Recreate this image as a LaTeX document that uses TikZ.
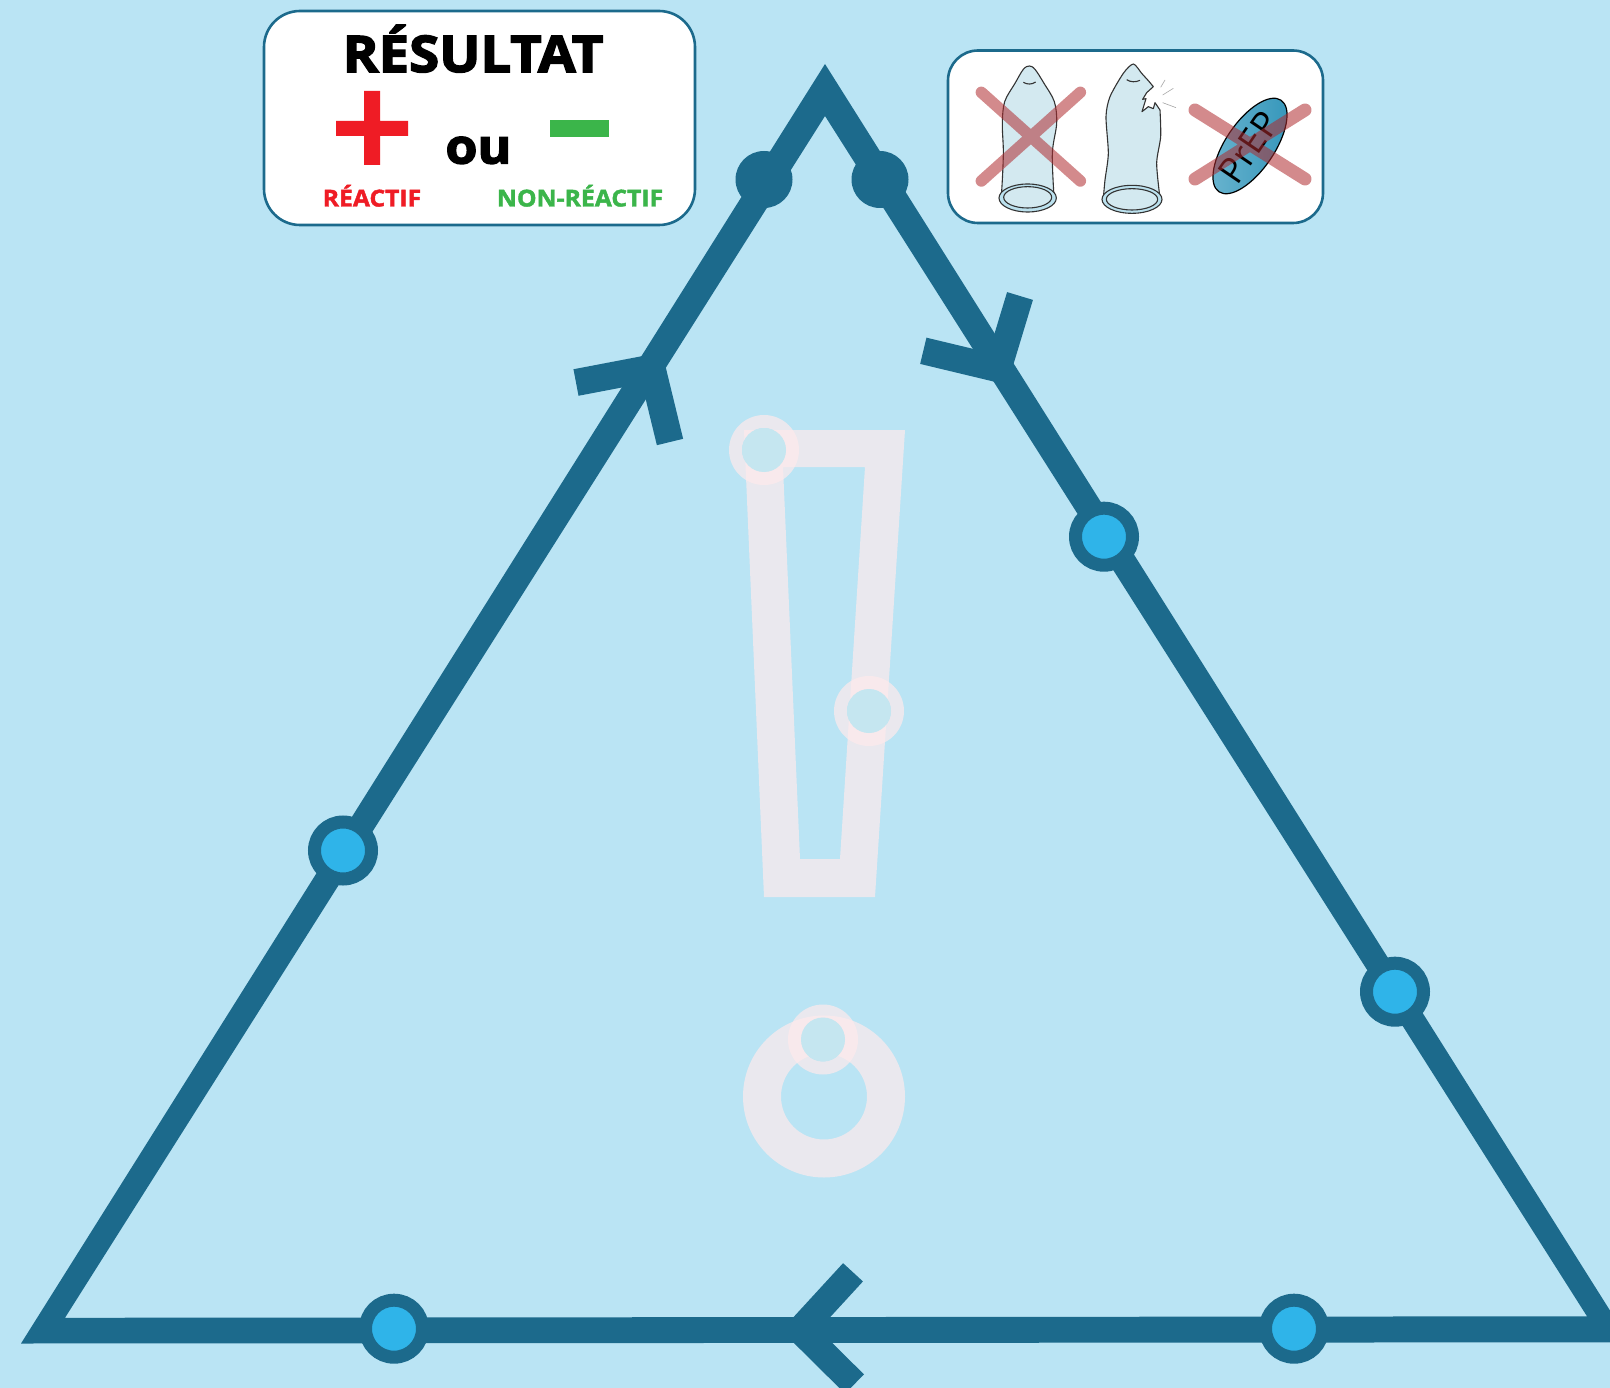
\documentclass[tikz,border=0pt]{standalone}
\usepackage{fontspec}
\setmainfont{Open Sans}
\newfontfamily\heavyf[BoldFeatures={FakeBold=3,FakeStretch=1.08}]{Open Sans}
\newfontfamily\midf[BoldFeatures={FakeBold=1.8,FakeStretch=1.06}]{Open Sans}
\definecolor{bgblue}{HTML}{BAE4F4}
\definecolor{tridark}{HTML}{1C6A8C}
\definecolor{dotblue}{HTML}{2FB4E9}
\definecolor{ghost}{HTML}{FFEAEC}
\definecolor{holecol}{HTML}{C5E6F0}
\definecolor{plusred}{HTML}{EF1C25}
\definecolor{minusgreen}{HTML}{3BB54A}
\definecolor{latexcol}{HTML}{D3E9F0}
\definecolor{ringcol}{HTML}{BBE1EE}
\definecolor{crossred}{HTML}{AF2B2F}
\definecolor{pilllight}{HTML}{6AB4CF}
\definecolor{pilldark}{HTML}{3496BA}
\tikzset{
  x=1pt,y=-1pt,
  panel/.style={draw=tridark,line width=2.6pt,fill=white},
  bluedot/.style={circle,draw=tridark,line width=13pt,fill=dotblue,minimum size=57pt,inner sep=0pt},
  darkdot/.style={circle,fill=tridark,minimum size=57pt,inner sep=0pt},
  ghostmark/.style={fill=ghost,fill opacity=.7,even odd rule},
  ghosthole/.style={circle,fill=holecol,minimum size=44pt,inner sep=0pt},
  chevron/.style={draw=tridark,line width=27pt,miter limit=10},
  outline/.style={draw=black!80,line width=1.1pt,fill=latexcol,line join=round},
  ringline/.style={draw=black!80,line width=1.1pt},
  spark/.style={draw=black!35,line width=.6pt},
  crossout/.style={draw=crossred,draw opacity=.55,line cap=round},
}
\begin{document}
\begin{tikzpicture}
\useasboundingbox (0,0) rectangle (1610,1388);
\clip (0,0) rectangle (1610,1388);
\fill[bgblue] (0,0) rectangle (1610,1388);

% warning mark
\path[ghostmark] (744,430)--(905,430)--(875,897)--(764,897)--cycle
  (783,467)--(865,467)--(840,859)--(800,859)--cycle;
\path[ghostmark] (824,1096.5) circle [radius=81] (824,1096.5) circle [radius=43];
\path[ghostmark] (764,450) circle [radius=35] (764,450) circle [radius=22];
\path[ghostmark] (869,711) circle [radius=35] (869,711) circle [radius=22];
\path[ghostmark] (823,1039.5) circle [radius=35] (823,1039.5) circle [radius=22];
\node[ghosthole] (ringa) at (764,450) {};
\node[ghosthole] (ringb) at (869,711) {};
\node[ghosthole] (ringc) at (823,1039.5) {};

% triangle
\fill[tridark,even odd rule] (825,64)--(21,1343.5)--(1630,1342.3)--cycle
  (825,116)--(65,1317.8)--(1587,1316.3)--cycle;
\node[darkdot] (topl) at (764,179.5) {};
\node[darkdot] (topr) at (880,179.5) {};
\draw[chevron] (576,382.5)--(652,368)--(670,442);
\draw[chevron] (923.3,350.8)--(998,368.7)--(1020,296);
\draw[chevron] (853,1272.3)--(800,1330)--(854.5,1384);
\node[bluedot] (da) at (1104,536.7) {};
\node[bluedot] (db) at (343,850.5) {};
\node[bluedot] (dc) at (1395,991.7) {};
\node[bluedot] (dd) at (394,1328.7) {};
\node[bluedot] (de) at (1294,1328.7) {};

% result panel
\draw[panel,rounded corners=36pt] (264,11) rectangle (695,225);
\node[anchor=base,inner sep=0pt] (title) at (473,72) {\heavyf\bfseries\fontsize{50.5}{60}\selectfont RÉSULTAT};
\node[anchor=base,inner sep=0pt] (ou) at (478.5,163.5) {\heavyf\bfseries\fontsize{48}{60}\selectfont ou};
\node[anchor=base,inner sep=0pt,text=plusred] (rea) at (372,206.5) {\midf\bfseries\fontsize{23.3}{26}\selectfont RÉACTIF};
\node[anchor=base,inner sep=0pt,text=minusgreen] (nrea) at (580,206.5) {\midf\bfseries\fontsize{23.3}{26}\selectfont NON-RÉACTIF};
\fill[plusred] (364,91) rectangle (380,165) (336,121) rectangle (408,136);
\fill[minusgreen] (550,120) rectangle (609,137);

% warning panel
\draw[panel,rounded corners=30pt] (948,50.5) rectangle (1323,223);
\begin{scope}[shift={(940,40)},scale=.33333]
  % first condom
  \path[outline] plot[smooth,tension=.55] coordinates {(184,470) (188,400) (190,330) (187,250) (194,185) (225,130) (250,88) (268,78) (285,88) (312,130) (343,185) (350,250) (337,340) (342,470)};
  \fill[latexcol] (263,472) ellipse [x radius=72,y radius=32];
  \path[ringline,fill=ringcol,even odd rule] (263,474) ellipse [x radius=86,y radius=42] (263,472) ellipse [x radius=72,y radius=32];
  \draw[ringline] (250,127) .. controls (262,134) and (275,134) .. (287,126);
  % torn condom
  \path[outline] plot[smooth,tension=.45] coordinates {(490,475) (495,420) (505,340) (498,230) (510,170) (550,100) (580,72) (605,100) (625,122)}
    -- (640,140) -- (620,158) -- (608,178) -- (618,176) -- (606,215) -- (625,200) -- (640,206) -- (645,188) -- (660,210)
    -- plot[smooth,tension=.45] coordinates {(660,210) (662,290) (650,370) (660,475)} -- cycle;
  \fill[latexcol] (576,478) ellipse [x radius=77,y radius=32];
  \path[ringline,fill=ringcol,even odd rule] (576,478) ellipse [x radius=90,y radius=42] (576,478) ellipse [x radius=77,y radius=32];
  \draw[ringline] (560,119) .. controls (572,127) and (587,127) .. (600,121);
  \draw[spark] (662,142)--(675,120);
  \draw[spark] (668,165)--(700,145);
  \draw[spark] (668,188)--(708,203);
  % pill
  \shade[rotate around={55.8:(930,318)},left color=pilllight,right color=pilldark] (930,318) ellipse [x radius=166,y radius=73];
  \draw[rotate around={55.8:(930,318)},black,line width=1.2pt] (930,318) ellipse [x radius=166,y radius=73];
  \node[rotate=55.8,inner sep=0pt,text=black] (prep) at (926,322) {\fontsize{36}{40}\selectfont PrEP};
  % crosses
  \draw[crossout,line width=11.5pt] (124,157)--(421,423) (124,423)--(421,157);
  \draw[crossout,line width=13pt] (765,210)--(1095,417) (765,417)--(1095,210);
\end{scope}
\end{tikzpicture}
\end{document}
